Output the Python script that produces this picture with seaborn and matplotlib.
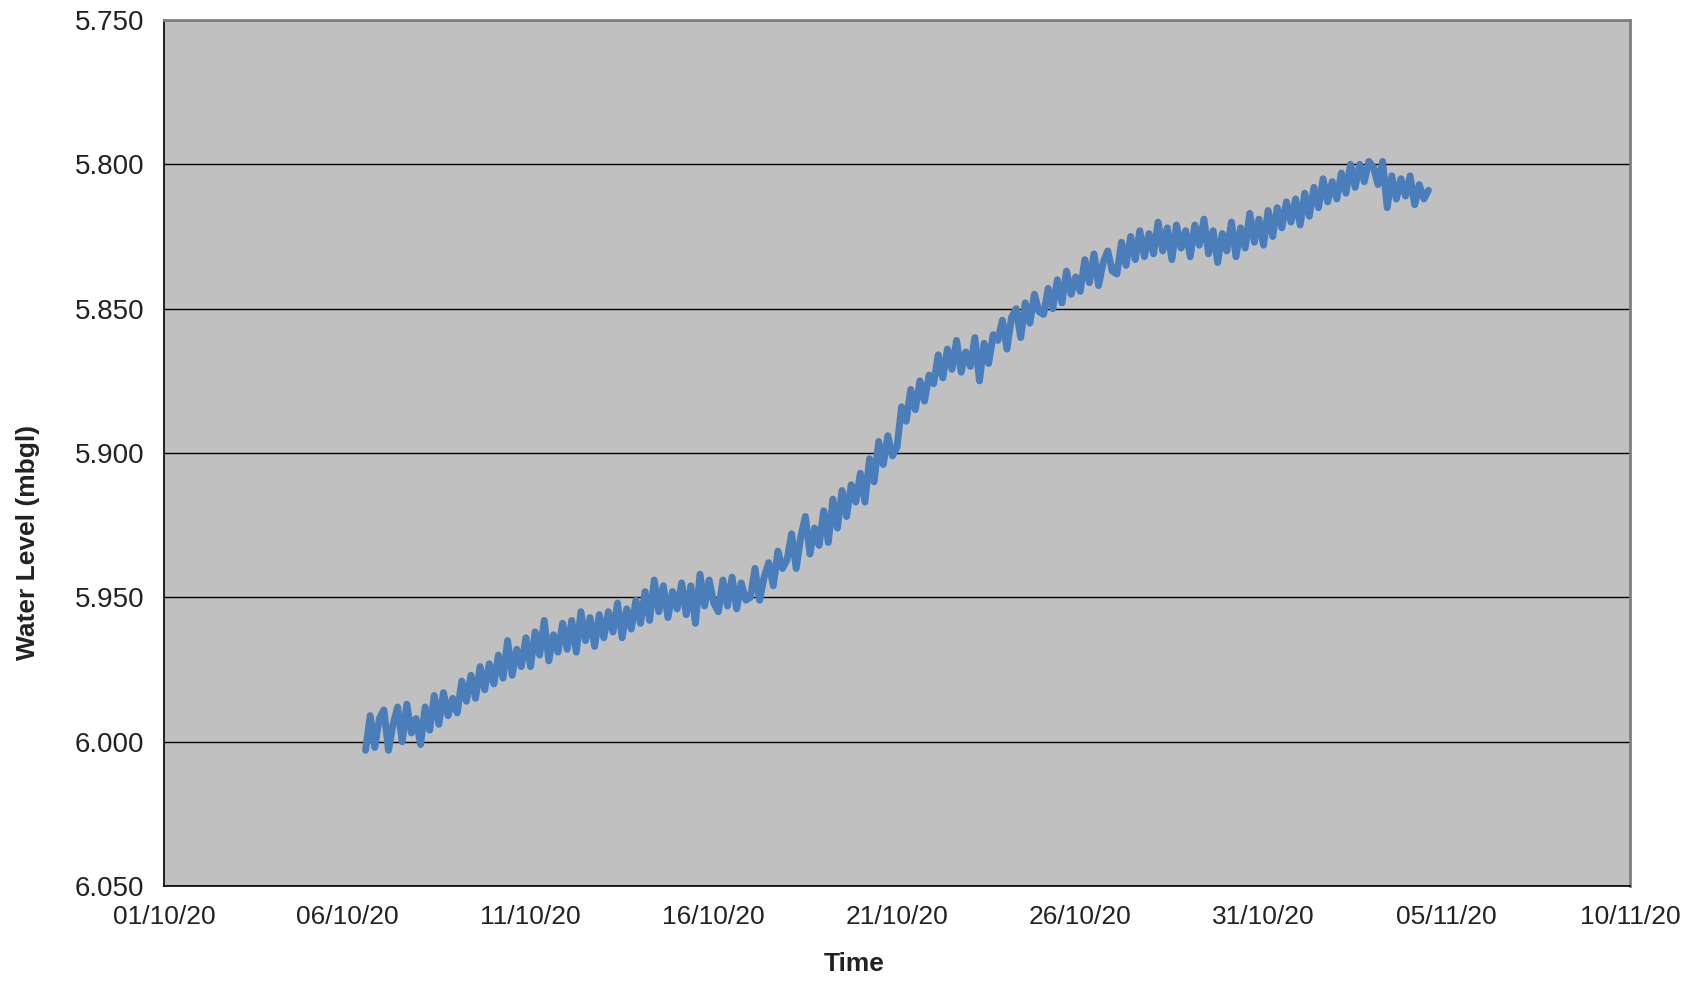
import pandas as pd
import seaborn as sns
import matplotlib.pyplot as plt
import matplotlib.dates as mdates
from matplotlib.ticker import FormatStrFormatter

# logger readings, every 3 hours from 06/10/20 12:00
start_time = "2020-10-06 12:00"
interval = "3h"
water_level = [
    6.003, 5.991, 6.002, 5.992,
    5.989, 6.003, 5.994, 5.988, 6.000, 5.987, 5.997, 5.992,
    6.001, 5.988, 5.996, 5.984, 5.994, 5.983, 5.991, 5.985,
    5.990, 5.979, 5.986, 5.977, 5.985, 5.974, 5.982, 5.973,
    5.980, 5.970, 5.978, 5.965, 5.977, 5.968, 5.974, 5.964,
    5.974, 5.962, 5.970, 5.958, 5.972, 5.963, 5.969, 5.959,
    5.968, 5.958, 5.969, 5.955, 5.965, 5.957, 5.967, 5.956,
    5.964, 5.955, 5.962, 5.952, 5.964, 5.954, 5.961, 5.951,
    5.959, 5.948, 5.958, 5.944, 5.955, 5.946, 5.957, 5.948,
    5.954, 5.945, 5.956, 5.946, 5.959, 5.942, 5.953, 5.944,
    5.952, 5.955, 5.944, 5.953, 5.943, 5.954, 5.945, 5.951,
    5.950, 5.940, 5.951, 5.943, 5.938, 5.946, 5.934, 5.940,
    5.937, 5.928, 5.940, 5.929, 5.922, 5.935, 5.926, 5.932,
    5.920, 5.931, 5.916, 5.926, 5.913, 5.922, 5.911, 5.917,
    5.907, 5.917, 5.902, 5.910, 5.896, 5.904, 5.894, 5.901,
    5.898, 5.884, 5.889, 5.878, 5.885, 5.875, 5.882, 5.873,
    5.876, 5.866, 5.874, 5.864, 5.871, 5.861, 5.872, 5.865,
    5.870, 5.860, 5.875, 5.862, 5.869, 5.859, 5.861, 5.854,
    5.864, 5.853, 5.850, 5.860, 5.848, 5.855, 5.845, 5.851,
    5.852, 5.843, 5.850, 5.840, 5.848, 5.837, 5.845, 5.839,
    5.844, 5.833, 5.841, 5.831, 5.842, 5.834, 5.830, 5.837,
    5.838, 5.827, 5.835, 5.825, 5.833, 5.823, 5.832, 5.824,
    5.831, 5.820, 5.830, 5.822, 5.833, 5.821, 5.829, 5.823,
    5.832, 5.821, 5.828, 5.819, 5.831, 5.823, 5.834, 5.824,
    5.830, 5.820, 5.832, 5.822, 5.829, 5.817, 5.827, 5.819,
    5.828, 5.816, 5.825, 5.815, 5.822, 5.813, 5.820, 5.812,
    5.821, 5.810, 5.818, 5.808, 5.815, 5.805, 5.813, 5.806,
    5.812, 5.803, 5.810, 5.800, 5.808, 5.800, 5.806, 5.799,
    5.801, 5.807, 5.799, 5.815, 5.804, 5.812, 5.805, 5.811,
    5.804, 5.814, 5.807, 5.812, 5.809,
]
x_ticks = pd.date_range("2020-10-01", "2020-11-10", freq="5D")
y_ticks = [5.750, 5.800, 5.850, 5.900, 5.950, 6.000, 6.050]

df = pd.DataFrame({
    "Time": pd.date_range(start_time, periods=len(water_level), freq=interval),
    "Water Level (mbgl)": water_level,
})

sns.set_theme(style="white")
plt.rcParams["font.family"] = ["Liberation Sans", "DejaVu Sans"]

fig = plt.figure(figsize=(16.91, 9.83), dpi=100)
ax = fig.add_axes([164 / 1691, 1 - 886 / 983, 1466 / 1691, 866 / 983])
ax.set_facecolor("#C0C0C0")

sns.lineplot(data=df, x="Time", y="Water Level (mbgl)", ax=ax,
             color="#4A7EBB", linewidth=5)

ax.set_ylim(6.05, 5.75)
ax.set_yticks(y_ticks)
ax.yaxis.set_major_formatter(FormatStrFormatter("%.3f"))
ax.set_xlim(x_ticks[0], x_ticks[-1])
ax.set_xticks(x_ticks)
ax.xaxis.set_major_formatter(mdates.DateFormatter("%d/%m/%y"))
ax.grid(axis="y", color="black", linewidth=1.0)
ax.grid(axis="x", visible=False)
ax.set_axisbelow(True)

ax.tick_params(axis="both", colors="black", labelcolor="#222222", length=6,
               width=1.2, direction="out", pad=8)
ax.tick_params(axis="y", labelsize=20)
ax.tick_params(axis="x", labelsize=19)
for side in ["left", "bottom"]:
    ax.spines[side].set_color("black")
    ax.spines[side].set_linewidth(1.2)
for side in ["top", "right"]:
    ax.spines[side].set_color("#808080")
    ax.spines[side].set_linewidth(2.0)

ax.set_xlabel("Time", fontsize=19, fontweight="bold", color="#222222")
ax.set_ylabel("Water Level (mbgl)", fontsize=19, fontweight="bold", color="#222222")
ax.xaxis.set_label_coords(0.471, -0.076)
ax.yaxis.set_label_coords(-0.0846, 0.397)

fig.savefig("out.png", dpi=100)
